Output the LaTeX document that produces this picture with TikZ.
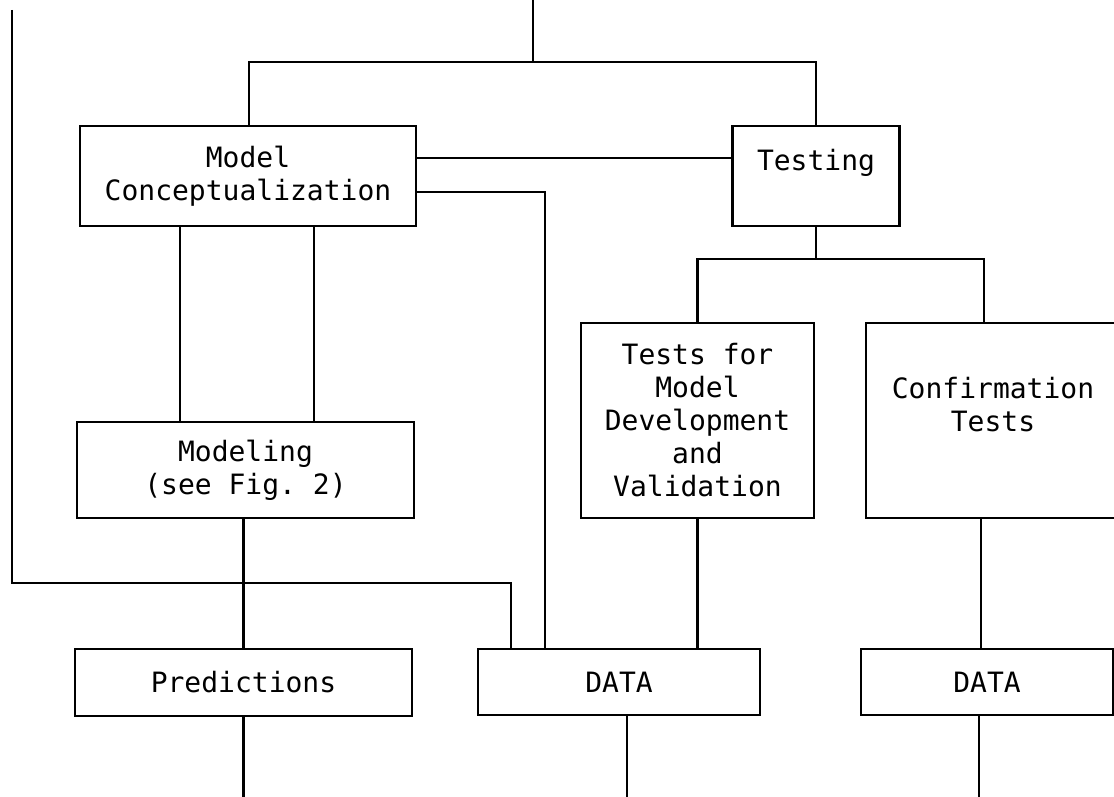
\documentclass[tikz,border=0pt]{standalone}
\usepackage{fontspec}
\setmonofont{DejaVu Sans Mono}
\begin{document}
\begin{tikzpicture}[x=1pt,y=-1pt]
\tikzset{
  box/.style={draw, line width=2.4pt, inner sep=0pt, align=center,
    font=\ttfamily\fontsize{28}{33}\selectfont},
  conn/.style={line width=2.4pt},
}
\fill[white] (0,0) rectangle (1114,797);
\useasboundingbox (0,0) rectangle (1114,797);

% boxes
\node[box, minimum width=336pt, minimum height=100pt] (MC) at (248,176) {Model\\Conceptualization};
\node[box, minimum width=167pt, minimum height=100pt] (T) at (816,176) {Testing\\\mbox{}};
\node[box, minimum width=337pt, minimum height=96pt] (Mod) at (245.5,470) {Modeling\\(see Fig. 2)};
\node[box, minimum width=337pt, minimum height=67pt] (Pred) at (243.5,682.5) {Predictions};
\node[box, minimum width=233pt, minimum height=195pt] (TM) at (697.5,420.5) {Tests for\\Model\\Development\\and\\Validation};
\node[box, minimum width=254pt, minimum height=195pt] (CT) at (993,420.5) {Confirmation\\Tests\\\mbox{}};
\node[box, minimum width=282pt, minimum height=66pt] (D1) at (619,682) {DATA};
\node[box, minimum width=252pt, minimum height=66pt] (D2) at (987,682) {DATA};

% coordinates
\coordinate (top) at (533,0);
\coordinate (topj) at (533,62);
\coordinate (bot) at (0,797);
\coordinate (L0) at (12,10);
\coordinate (L1) at (12,583);
\coordinate (d1l) at ([xshift=-108pt]D1.north);
\coordinate (d1m) at ([xshift=-74pt]D1.north);
\coordinate (m1) at ([xshift=-68pt]MC.south);
\coordinate (m2) at ([xshift=66pt]MC.south);
\coordinate (tj) at ([yshift=-32pt]T.south);
\coordinate (ctn) at ([xshift=-9pt]CT.north);
\coordinate (cts) at ([xshift=-12pt]CT.south);
\coordinate (d1b) at ([xshift=8pt]D1.south);
\coordinate (d2b) at ([xshift=-8pt]D2.south);

% connectors
\draw[conn] (top) -- (topj);
\draw[conn] ([xshift=1pt]MC.north) |- (topj) -| (T.north);
\draw[conn] ([yshift=-33pt]MC.north east) -- ([yshift=-33pt]T.north west);
\draw[conn] ([yshift=-67pt]MC.north east) -| (d1m);
\draw[conn] (m1) -- (m1 |- Mod.north);
\draw[conn] (m2) -- (m2 |- Mod.north);
\draw[conn] (Mod.south -| Pred.north) -- (Pred.north);
\draw[conn] (L0) -- (L1) -| (d1l);
\draw[conn] (T.south) -- (tj);
\draw[conn] (TM.north) |- (tj) -| (ctn);
\draw[conn] (TM.south) -- (TM.south |- D1.north);
\draw[conn] (cts) -- (cts |- D2.north);
\draw[conn] (Pred.south) -- (Pred.south |- bot);
\draw[conn] (d1b) -- (d1b |- bot);
\draw[conn] (d2b) -- (d2b |- bot);
\end{tikzpicture}
\end{document}
